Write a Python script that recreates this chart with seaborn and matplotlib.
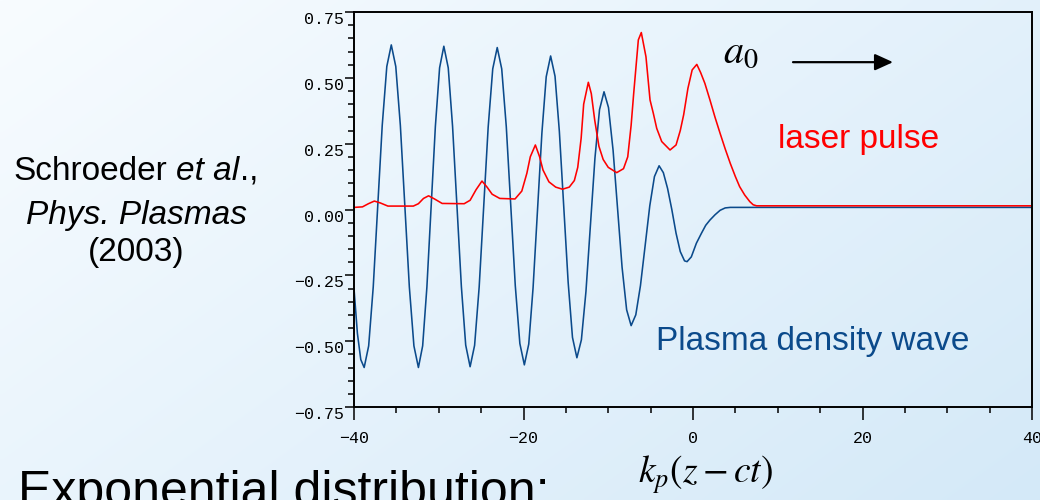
import numpy as np
import pandas as pd
import matplotlib
matplotlib.use("Agg")
import matplotlib.pyplot as plt
import seaborn as sns
from matplotlib.ticker import MultipleLocator, FuncFormatter

# Plasma density wave, sampled along k_p(z - ct)
wave_x = [-40.0, -39.6, -39.2, -38.8, -38.27, -37.73, -37.2, -36.67, -36.13, -35.6,
          -35.07, -34.53, -34.0, -33.47, -32.93, -32.4,
          -31.9, -31.4, -30.9, -30.4, -29.9, -29.4,
          -28.88, -28.37, -27.85, -27.33, -26.82, -26.3,
          -25.77, -25.23, -24.7, -24.17, -23.63, -23.1,
          -22.57, -22.03, -21.5, -20.97, -20.43, -19.9,
          -19.38, -18.87, -18.35, -17.83, -17.32, -16.8,
          -16.28, -15.77, -15.25, -14.73, -14.22, -13.7,
          -13.17, -12.63, -12.1, -11.57, -11.03, -10.5,
          -9.97, -9.43, -8.9, -8.37, -7.83, -7.3,
          -6.75, -6.2, -5.65, -5.1, -4.55, -4.0,
          -3.5, -3.0, -2.5, -2.0, -1.5, -1.0, -0.7,
          -0.2, 0.4, 1.0, 1.5, 2.0, 2.6, 3.2, 3.8, 4.4, 40.0]
wave_y = [-0.300, -0.470, -0.570, -0.600, -0.518, -0.294, 0.013, 0.319, 0.543, 0.625,
          0.543, 0.319, 0.013, -0.294, -0.518, -0.600,
          -0.518, -0.295, 0.010, 0.315, 0.538, 0.620,
          0.538, 0.316, 0.012, -0.293, -0.515, -0.597,
          -0.516, -0.294, 0.009, 0.312, 0.534, 0.615,
          0.534, 0.314, 0.013, -0.289, -0.509, -0.590,
          -0.511, -0.297, -0.004, 0.290, 0.504, 0.583,
          0.506, 0.297, 0.010, -0.277, -0.486, -0.563,
          -0.495, -0.311, -0.058, 0.195, 0.379, 0.447,
          0.387, 0.225, 0.003, -0.219, -0.381, -0.441,
          -0.400, -0.289, -0.138, 0.014, 0.125, 0.166,
          0.140, 0.080, 0.000, -0.090, -0.160, -0.195, -0.198,
          -0.180, -0.128, -0.090, -0.060, -0.040, -0.020, -0.003, 0.006, 0.008, 0.008]

# Laser pulse envelope a0
laser_x = [-40.0, -39.0, -38.3, -37.6, -36.9, -36.0, -33.0, -32.4, -31.8, -31.2,
           -30.5, -29.6, -27.0, -26.3, -25.6, -24.9, -24.3, -23.7, -22.8, -21.0,
           -20.2, -19.6, -19.2, -18.6, -18.1, -17.7, -17.0, -16.2, -15.4, -14.6,
           -14.0, -13.6, -13.2, -12.9, -12.35, -12.0, -11.6, -11.1, -10.6, -10.0,
           -9.0, -8.2, -7.7, -7.3, -7.0, -6.45, -6.1, -5.55, -5.07, -4.68,
           -4.28, -3.69, -2.71, -2.0, -1.5, -1.1, -0.6, -0.1, 0.45, 0.9,
           1.4, 2.0, 2.6, 3.2, 3.8, 4.4, 5.0, 5.5, 6.1, 6.7,
           7.1, 7.5, 40.0]
laser_y = [0.008, 0.010, 0.022, 0.032, 0.025, 0.013, 0.013, 0.022, 0.042, 0.052,
           0.040, 0.023, 0.022, 0.035, 0.075, 0.108, 0.085, 0.058, 0.042, 0.040,
           0.070, 0.138, 0.200, 0.245, 0.200, 0.150, 0.105, 0.085, 0.077, 0.085,
           0.110, 0.160, 0.270, 0.400, 0.483, 0.440, 0.340, 0.240, 0.190, 0.160,
           0.140, 0.155, 0.200, 0.320, 0.440, 0.644, 0.672, 0.580, 0.416, 0.365,
           0.308, 0.258, 0.226, 0.245, 0.300, 0.360, 0.460, 0.530, 0.551, 0.520,
           0.479, 0.416, 0.350, 0.289, 0.230, 0.175, 0.125, 0.087, 0.055, 0.030,
           0.018, 0.014, 0.014]

x_major_ticks = [-40, -20, 0, 20, 40]
y_major_ticks = [-0.75, -0.50, -0.25, 0.00, 0.25, 0.50, 0.75]

RED = "#ff0000"
BLUE = "#0b4a8b"

sns.set_style("ticks")
plt.rcParams["font.family"] = ["Liberation Sans", "DejaVu Sans"]
plt.rcParams["text.color"] = "black"
plt.rcParams["xtick.color"] = "black"
plt.rcParams["ytick.color"] = "black"

fig = plt.figure(figsize=(10.4, 5.0), dpi=100)
W, H = 1040, 500

# soft diagonal slide backdrop
bg = fig.add_axes([0, 0, 1, 1], zorder=-10)
bg.axis("off")
gx, gy = np.meshgrid(np.linspace(0, 1, 200), np.linspace(0, 1, 200))
t = 0.6 * gx + 0.4 * gy
c0 = np.array([248, 252, 255]) / 255
c1 = np.array([212, 233, 248]) / 255
bg.imshow(c0 + (c1 - c0) * t[..., None], extent=[0, 1, 0, 1], origin="upper",
          aspect="auto", interpolation="bilinear")
bg.set_xlim(0, 1)
bg.set_ylim(0, 1)

ax = fig.add_axes([354 / W, 93 / H, 678 / W, 395 / H])
ax.set_facecolor("none")

wave = pd.DataFrame({"x": wave_x, "y": wave_y})
laser = pd.DataFrame({"x": laser_x, "y": laser_y})
sns.lineplot(data=wave, x="x", y="y", color=BLUE, lw=1.15, ax=ax,
             estimator=None, sort=False)
sns.lineplot(data=laser, x="x", y="y", color=RED, lw=1.15, ax=ax,
             estimator=None, sort=False)

ax.set_xlim(-40, 40)
ax.set_ylim(-0.75, 0.75)
ax.set_xticks(x_major_ticks)
ax.set_yticks(y_major_ticks)
ax.xaxis.set_minor_locator(MultipleLocator(5))
ax.yaxis.set_minor_locator(MultipleLocator(0.05))
ax.xaxis.set_major_formatter(FuncFormatter(lambda v, p: f"{v:.0f}".replace("-", "\u2212")))
ax.yaxis.set_major_formatter(FuncFormatter(lambda v, p: f"{v:.2f}".replace("-", "\u2212")))
ax.set_xlabel("")
ax.set_ylabel("")

for s in ax.spines.values():
    s.set_visible(True)
    s.set_color("black")
    s.set_linewidth(1.4)

ax.tick_params(axis="x", which="major", direction="out", length=9, width=1.1,
               color="black", labelcolor="black", pad=8, labelsize=12)
ax.tick_params(axis="x", which="minor", direction="out", length=4.3, width=1.1, color="black")
ax.tick_params(axis="y", which="major", direction="out", length=6.5, width=1.1,
               color="black", labelcolor="black", pad=1.0, labelsize=12)
ax.tick_params(axis="y", which="minor", direction="out", length=4, width=1.1, color="black")
for lab in ax.get_xticklabels() + ax.get_yticklabels():
    lab.set_fontfamily(["Liberation Mono", "DejaVu Sans Mono"])
for lab in ax.get_yticklabels():
    lab.set_verticalalignment("top")

# annotations inside the plot
ax.text(0.544, 0.871, r"$a_0$", transform=ax.transAxes, fontsize=29,
        math_fontfamily="stix", va="baseline", ha="left", color="black")
ax.annotate("", xy=(0.795, 0.873), xytext=(0.6475, 0.873), xycoords="axes fraction",
            arrowprops=dict(arrowstyle="-|>,head_length=0.55,head_width=0.25",
                            color="black", lw=1.6, mutation_scale=20,
                            shrinkA=0, shrinkB=0))
ax.text(0.625, 0.656, "laser pulse", transform=ax.transAxes, fontsize=24,
        color=RED, va="baseline", ha="left")
ax.text(0.446, 0.144, "Plasma density wave", transform=ax.transAxes, fontsize=24,
        color=BLUE, va="baseline", ha="left")

# axis label
fig.text(705 / W, (H - 483) / H, r"$k_p(z-ct)$", fontsize=27, math_fontfamily="stix",
         ha="center", va="baseline", color="black")

# citation block
t1 = bg.text(13 / W, (H - 187) / H, "Schroeder", fontsize=24, va="bottom", ha="left",
             transform=fig.transFigure, color="black")
t2 = bg.annotate("et al", xy=(1, 0), xycoords=t1, xytext=(7, 0),
                 textcoords="offset points", fontsize=24, style="italic",
                 va="bottom", ha="left", color="black")
bg.annotate(".,", xy=(1, 0), xycoords=t2, xytext=(0, 0),
            textcoords="offset points", fontsize=24, va="bottom", ha="left",
            color="black")
fig.text(137 / W, (H - 224) / H, "Phys. Plasmas", fontsize=24, style="italic",
         va="baseline", ha="center", color="black")
fig.text(136 / W, (H - 261) / H, "(2003)", fontsize=24, va="baseline", ha="center",
         color="black")

fig.text(18 / W, (H - 506) / H, "Exponential distribution:", fontsize=36,
         va="baseline", ha="left", color="black")

fig.savefig("out.png", dpi=100)
